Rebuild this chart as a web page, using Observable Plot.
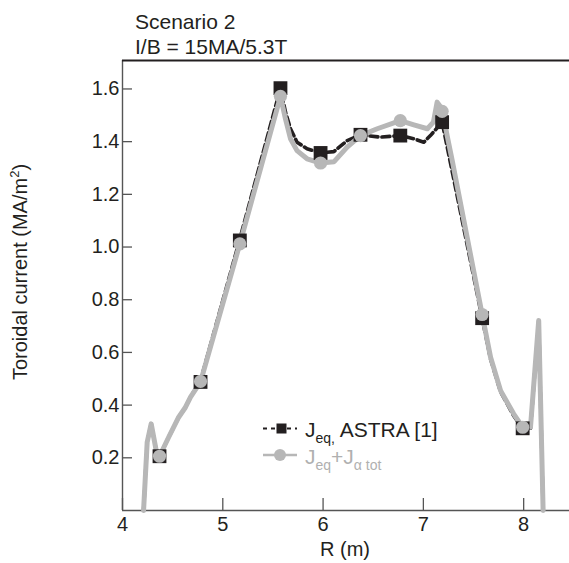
<!DOCTYPE html>
<html><head><meta charset="utf-8">
<script src="https://cdn.jsdelivr.net/npm/d3@7"></script>
<script src="https://cdn.jsdelivr.net/npm/@observablehq/plot@0.6"></script>
<style>html,body{margin:0;padding:0;background:#fff;} #chart{width:569px;height:563px;}</style>
</head><body><div id="chart"></div>
<script>
// ---- Data ----
// Grey curve: J_eq + J_alpha tot
const greyR = [4.21, 4.246, 4.286, 4.336, 4.369, 4.46, 4.56, 4.628, 4.678, 4.778, 5.17, 5.575, 5.625, 5.675, 5.74, 5.84, 5.975, 6.11, 6.24, 6.373, 6.54, 6.77, 6.905, 7.04, 7.10, 7.137, 7.187, 7.237, 7.287, 7.586, 7.67, 7.77, 7.90, 7.99, 8.068, 8.15, 8.194];
const greyJ = [0, 0.259, 0.329, 0.228, 0.206, 0.278, 0.354, 0.392, 0.43, 0.488, 1.012, 1.572, 1.486, 1.411, 1.366, 1.335, 1.319, 1.324, 1.379, 1.423, 1.449, 1.48, 1.464, 1.449, 1.474, 1.550, 1.524, 1.423, 1.329, 0.744, 0.582, 0.455, 0.367, 0.316, 0.316, 0.721, 0];
// Dashed curve: J_eq, ASTRA [1]
const astraR = [4.21, 4.246, 4.286, 4.336, 4.369, 4.46, 4.56, 4.628, 4.678, 4.778, 5.17, 5.575, 5.625, 5.675, 5.74, 5.84, 5.975, 6.107, 6.24, 6.373, 6.57, 6.77, 6.905, 7.004, 7.07, 7.187, 7.586, 7.67, 7.77, 7.90, 7.99, 8.068, 8.15, 8.194];
const astraJ = [0, 0.259, 0.329, 0.228, 0.206, 0.278, 0.354, 0.392, 0.43, 0.492, 1.03, 1.603, 1.512, 1.449, 1.398, 1.373, 1.357, 1.362, 1.404, 1.426, 1.417, 1.423, 1.411, 1.398, 1.423, 1.474, 0.73, 0.575, 0.45, 0.36, 0.312, 0.312, 0.72, 0];
// Marker positions
const markerR = [4.369, 4.778, 5.17, 5.575, 5.975, 6.373, 6.77, 7.187, 7.586, 7.99];
const squareJ = [0.206, 0.488, 1.025, 1.603, 1.357, 1.426, 1.423, 1.474, 0.73, 0.312];
const circleJ = [0.206, 0.49, 1.012, 1.572, 1.319, 1.423, 1.48, 1.515, 0.744, 0.316];
// Axes
const xTicks = [4, 5, 6, 7, 8];
const yTicks = [0.2, 0.4, 0.6, 0.8, 1.0, 1.2, 1.4, 1.6];
const xDomain = [4, 8.457];
const yDomain = [0, 1.708];
const titleLines = ["Scenario 2", "I/B = 15MA/5.3T"];

// ---- Build tables ----
const grey = greyR.map((r, i) => ({r, j: greyJ[i]}));
const astra = astraR.map((r, i) => ({r, j: astraJ[i]}));
const squares = markerR.map((r, i) => ({r, j: squareJ[i]}));
const circles = markerR.map((r, i) => ({r, j: circleJ[i]}));

const W = 569, H = 563, mL = 122, mR = 0, mT = 60, mB = 53;
const BLACK = "#231f20", GREY = "#b7b7b7", AXIS = "#555";
const FONT = "'Liberation Sans', Arial, Helvetica, sans-serif";

const chart = Plot.plot({
  width: W, height: H,
  marginLeft: mL, marginRight: mR, marginTop: mT, marginBottom: mB,
  style: {fontFamily: FONT, fontSize: "20px", background: "#fff", color: BLACK, overflow: "visible"},
  x: {domain: xDomain},
  y: {domain: yDomain},
  marks: [
    Plot.ruleX([xDomain[0]], {stroke: AXIS, strokeWidth: 1.4}),
    Plot.ruleY([yDomain[0]], {stroke: AXIS, strokeWidth: 1.4}),
    Plot.ruleY([yDomain[1]], {stroke: BLACK, strokeWidth: 2}),
    Plot.tickY(yTicks, {y: d => d, stroke: AXIS, strokeWidth: 1.3, insetRight: W - mL - mR - 10}),
    Plot.tickX(xTicks, {x: d => d, stroke: AXIS, strokeWidth: 1.3, insetTop: H - mT - mB - 12}),
    Plot.axisY(yTicks, {tickSize: 0, tickPadding: 3, tickFormat: d3.format(".1f"), label: null, fill: BLACK}),
    Plot.axisX(xTicks, {tickSize: 0, tickPadding: 6, tickFormat: d3.format("d"), label: null, fill: BLACK}),
    Plot.line(astra, {x: "r", y: "j", stroke: BLACK, strokeWidth: 3.6, strokeDasharray: "8,4"}),
    Plot.line(grey, {x: "r", y: "j", stroke: GREY, strokeWidth: 5, strokeLinejoin: "round", strokeLinecap: "round"}),
    Plot.dot(squares, {x: "r", y: "j", symbol: "square", r: 7.8, fill: BLACK, stroke: "none"}),
    Plot.dot(circles, {x: "r", y: "j", r: 6.6, fill: GREY, stroke: "none"})
  ]
});
document.getElementById("chart").appendChild(chart);

const svg = d3.select(chart);
const ann = svg.append("g").attr("font-family", FONT).attr("text-anchor", "start");

// Title lines
ann.append("text").attr("x", 135).attr("y", 29).attr("font-size", 21).attr("fill", BLACK).text(titleLines[0]);
ann.append("text").attr("x", 135).attr("y", 54).attr("font-size", 21).attr("fill", BLACK).text(titleLines[1]);

// Axis titles
const yl = ann.append("text").attr("transform", "translate(27,272) rotate(-90)")
  .attr("text-anchor", "middle").attr("font-size", 20).attr("fill", BLACK);
yl.append("tspan").text("Toroidal current (MA/m");
yl.append("tspan").attr("font-size", 13).attr("dy", -8).text("2");
yl.append("tspan").attr("dy", 8).text(")");
ann.append("text").attr("x", 345).attr("y", 556).attr("text-anchor", "middle")
  .attr("font-size", 20).attr("fill", BLACK).text("R (m)");

// Legend
const lg = ann.append("g");
lg.append("line").attr("x1", 263).attr("x2", 297).attr("y1", 428.5).attr("y2", 428.5)
  .attr("stroke", BLACK).attr("stroke-width", 2).attr("stroke-dasharray", "4,4");
lg.append("rect").attr("x", 276.5).attr("y", 423.5).attr("width", 10).attr("height", 10).attr("fill", BLACK);
const t1 = lg.append("text").attr("x", 305).attr("y", 437).attr("font-size", 21).attr("fill", BLACK);
t1.append("tspan").text("J");
t1.append("tspan").attr("font-size", 14).attr("dy", 6).text("eq,");
t1.append("tspan").attr("dy", -6).text(" ASTRA [1]");

lg.append("line").attr("x1", 263).attr("x2", 297).attr("y1", 455).attr("y2", 455)
  .attr("stroke", GREY).attr("stroke-width", 2.5);
lg.append("circle").attr("cx", 280).attr("cy", 455).attr("r", 6).attr("fill", GREY);
const t2 = lg.append("text").attr("x", 305).attr("y", 464).attr("font-size", 21).attr("fill", "#b0b0b0");
t2.append("tspan").text("J");
t2.append("tspan").attr("font-size", 14).attr("dy", 6).text("eq");
t2.append("tspan").attr("dy", -6).text("+J");
t2.append("tspan").attr("font-size", 14).attr("dy", 6).text("\u03b1 tot");
</script></body></html>
